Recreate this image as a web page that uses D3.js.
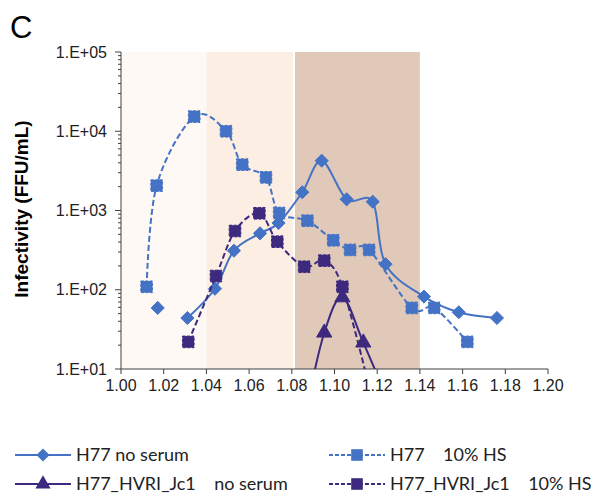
<!DOCTYPE html>
<html>
<head>
<meta charset="utf-8">
<script src="https://cdn.jsdelivr.net/npm/d3@7"></script>
<style>
  body { margin: 0; background: #fff; }
  svg { display: block; }
</style>
</head>
<body>
<div id="chart"></div>
<script>
// ---- data (density fractions vs FFU/mL) ----
// null = empty cell (gap in the line); values < 10 fall below the axis and get clipped
var h77NoSerumX = [1.0172, 1.0240, 1.0311, 1.0440, 1.0529, 1.0651, 1.0738, 1.0849, 1.0940, 1.1057, 1.1179, 1.1239, 1.1419, 1.1582, 1.1761];
var h77NoSerumY = [59, null, 44, 103, 311, 515, 695, 1700, 4250, 1384, 1291, 210, 82, 52, 44];

var h77HsX = [1.0120, 1.0167, 1.0343, 1.0492, 1.0568, 1.0679, 1.0741, 1.0873, 1.0994, 1.1073, 1.1162, 1.1362, 1.1467, 1.1622];
var h77HsY = [109, 2060, 15300, 10000, 3790, 2620, 930, 743, 421, 318, 318, 59, 59, 22];

var hvrNoSerumX = [1.0873, 1.0952, 1.1037, 1.1135, 1.1260];
var hvrNoSerumY = [3.5, 28.7, 80, 21.5, 3.5];

var hvrHsX = [1.0315, 1.0445, 1.0534, 1.0648, 1.0732, 1.0858, 1.0952, 1.1037, 1.1162];
var hvrHsY = [22, 149, 551, 922, 404, 195, 233, 109, 6];

var xTicks = [1.00, 1.02, 1.04, 1.06, 1.08, 1.10, 1.12, 1.14, 1.16, 1.18, 1.20];
var yTicks = [1e1, 1e2, 1e3, 1e4, 1e5];
var yTickLabels = ["1.E+01", "1.E+02", "1.E+03", "1.E+04", "1.E+05"];

// shaded gradient fractions
var bandStart = [1.00, 1.04, 1.0815];
var bandEnd = [1.04, 1.0805, 1.14];
var bandColor = ["#FEF9F4", "#FCEEE3", "#E0C9B9"];

var blue = "#4472C4", purple = "#3D2A7E";

var svg = d3.select("#chart").append("svg")
  .attr("width", 594)
  .attr("height", 502);

var x = d3.scaleLinear().domain([1.0, 1.2]).range([121, 548]);
var y = d3.scaleLog().domain([10, 1e5]).range([369, 52]);

// clip to the plot area
svg.append("clipPath").attr("id", "plotclip")
  .append("rect")
  .attr("x", x(1.0)).attr("y", y(1e5))
  .attr("width", x(1.2) - x(1.0)).attr("height", y(10) - y(1e5));

// bands
svg.append("g").selectAll("rect")
  .data(bandStart)
  .join("rect")
  .attr("x", function (d) { return x(d); })
  .attr("y", y(1e5))
  .attr("width", function (d, i) { return x(bandEnd[i]) - x(d); })
  .attr("height", y(10) - y(1e5))
  .attr("fill", function (d, i) { return bandColor[i]; });

// title letter
svg.append("text")
  .attr("x", 10).attr("y", 38)
  .style("font-family", "Liberation Sans, Arial, sans-serif")
  .style("font-size", "31px")
  .text("C");

// y axis
var yMinor = [];
for (var e = 1; e < 5; e++) {
  for (var m = 2; m < 10; m++) yMinor.push(m * Math.pow(10, e));
}
var yAxis = svg.append("g").attr("transform", "translate(" + x(1.0) + ",0)");
yAxis.append("line").attr("y1", y(10)).attr("y2", y(1e5)).attr("stroke", "#404040");
yAxis.selectAll(".minor").data(yMinor).join("line")
  .attr("class", "minor")
  .attr("x1", -3).attr("x2", 0)
  .attr("y1", function (d) { return y(d); }).attr("y2", function (d) { return y(d); })
  .attr("stroke", "#404040");
yAxis.selectAll(".major").data(yTicks).join("line")
  .attr("class", "major")
  .attr("x1", -6).attr("x2", 0)
  .attr("y1", function (d) { return y(d); }).attr("y2", function (d) { return y(d); })
  .attr("stroke", "#404040");
yAxis.selectAll("text").data(yTicks).join("text")
  .attr("x", -14)
  .attr("y", function (d) { return y(d); })
  .attr("dy", "0.35em")
  .attr("text-anchor", "end")
  .style("font-family", "Liberation Sans, Arial, sans-serif")
  .style("font-size", "16px")
  .attr("fill", "#222")
  .text(function (d, i) { return yTickLabels[i]; });

// x axis
var xAxis = svg.append("g").attr("transform", "translate(0," + y(10) + ")");
xAxis.append("line").attr("x1", x(1.0)).attr("x2", x(1.2)).attr("stroke", "#404040");
xAxis.selectAll("line.tick").data(xTicks).join("line")
  .attr("class", "tick")
  .attr("x1", function (d) { return x(d); }).attr("x2", function (d) { return x(d); })
  .attr("y1", 0).attr("y2", 5)
  .attr("stroke", "#404040");
xAxis.selectAll("text").data(xTicks).join("text")
  .attr("x", function (d) { return x(d); })
  .attr("y", 22)
  .attr("text-anchor", "middle")
  .style("font-family", "Liberation Sans, Arial, sans-serif")
  .style("font-size", "16px")
  .attr("fill", "#222")
  .text(function (d) { return d.toFixed(2); });

// y title
svg.append("text")
  .attr("transform", "translate(28,209) rotate(-90)")
  .attr("text-anchor", "middle")
  .style("font-family", "Liberation Sans, Arial, sans-serif")
  .style("font-size", "19px")
  .style("font-weight", "bold")
  .text("Infectivity (FFU/mL)");

// series
var series = [
  { name: "H77 no serum", xs: h77NoSerumX, ys: h77NoSerumY, color: blue, dash: null, marker: "diamond" },
  { name: "H77    10% HS", xs: h77HsX, ys: h77HsY, color: blue, dash: "6,3", marker: "square" },
  { name: "H77_HVRI_Jc1    no serum", xs: hvrNoSerumX, ys: hvrNoSerumY, color: purple, dash: null, marker: "triangle" },
  { name: "H77_HVRI_Jc1    10% HS", xs: hvrHsX, ys: hvrHsY, color: purple, dash: "6,3", marker: "square" }
];

var symbols = {
  diamond: d3.symbol().type(d3.symbolDiamond2).size(110),
  square: d3.symbol().type(d3.symbolSquare).size(135),
  triangle: d3.symbol().type(d3.symbolTriangle).size(100)
};

var line = d3.line()
  .defined(function (d) { return d.v != null; })
  .x(function (d) { return x(d.x); })
  .y(function (d) { return y(d.v); })
  .curve(d3.curveCardinal.tension(0));

var plot = svg.append("g").attr("clip-path", "url(#plotclip)");

series.forEach(function (s) {
  var pts = s.xs.map(function (xv, i) { return { x: xv, v: s.ys[i] }; });
  plot.append("path")
    .datum(pts)
    .attr("d", line)
    .attr("fill", "none")
    .attr("stroke", s.color)
    .attr("stroke-width", 2)
    .attr("stroke-dasharray", s.dash);
  plot.append("g").selectAll("path")
    .data(pts.filter(function (d) { return d.v != null && d.v >= 10; }))
    .join("path")
    .attr("transform", function (d) { return "translate(" + x(d.x) + "," + y(d.v) + ")"; })
    .attr("d", symbols[s.marker])
    .attr("fill", s.color)
    .attr("stroke", s.color)
    .attr("stroke-width", 1)
    .attr("stroke-dasharray", s.dash ? "3,1.5" : null);
});

// legend, two columns
var legendPos = [[15, 455], [329, 455], [15, 484], [329, 484]];
var legend = svg.append("g").selectAll("g")
  .data(series)
  .join("g")
  .attr("transform", function (d, i) { return "translate(" + legendPos[i][0] + "," + legendPos[i][1] + ")"; });

legend.append("line")
  .attr("x1", 0).attr("x2", 56)
  .attr("stroke", function (d) { return d.color; })
  .attr("stroke-width", 2)
  .attr("stroke-dasharray", function (d) { return d.dash ? "4,2" : null; });

legend.append("path")
  .attr("transform", "translate(28,0)")
  .attr("d", function (d) { return symbols[d.marker](); })
  .attr("fill", function (d) { return d.color; });

legend.append("text")
  .attr("x", 61)
  .attr("dy", "0.35em")
  .style("font-family", "Lato, Carlito, Calibri, sans-serif")
  .style("font-size", "18px")
  .style("white-space", "pre")
  .attr("fill", "#222")
  .text(function (d) { return d.name; });
</script>
</body>
</html>
